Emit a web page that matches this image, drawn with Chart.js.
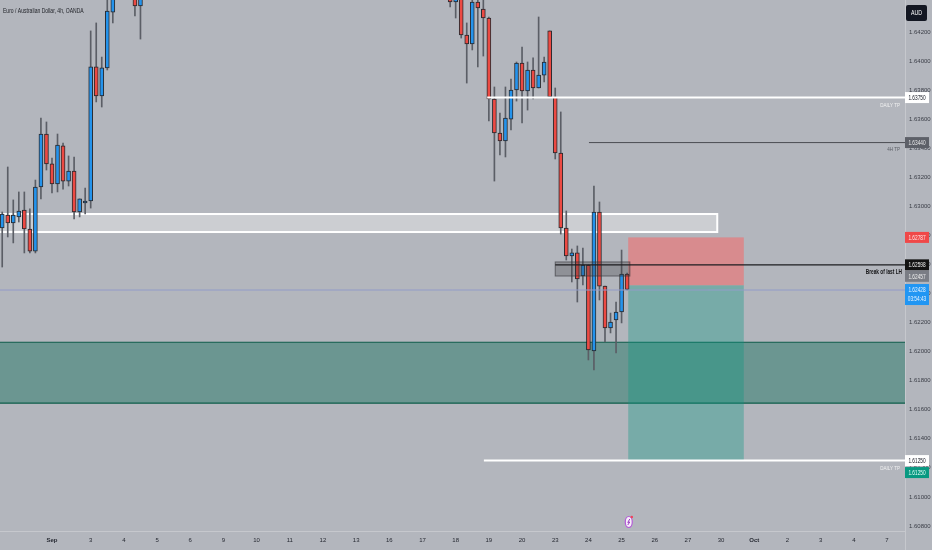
<!DOCTYPE html>
<html>
<head>
<meta charset="utf-8">
<script src="https://cdn.jsdelivr.net/npm/chart.js@4.4.0/dist/chart.umd.min.js"></script>
<style>
html, body { margin: 0; padding: 0; background: #b3b6bd; }
#wrap { position: relative; width: 932px; height: 550px; }
</style>
</head>
<body>
<div id="wrap"><canvas id="eurAudCanvas" width="932" height="550"></canvas></div>
<script>
// 4h bars, index 0 = first bar of September (Sunday session bar)
var barIdx = [-9,-8,-7,-6,-5,-4,-3,-2,-1,0,1,2,3,4,5,6,7,8,9,10,11,15,16,
  72,73,74,75,76,77,78,79,80,81,82,83,84,85,86,87,88,89,90,91,92,93,94,95,96,97,98,99,100,101,102,103,104];
var opens = [1.62852,1.62941,1.62886,1.62928,1.62976,1.62845,1.62693,1.63134,1.63499,1.63293,1.63155,1.63417,1.63175,1.63244,1.62962,1.63024,1.63038,1.63961,1.63761,1.63954,1.64339,1.64500,1.64381,
  1.64440,1.64408,1.64460,1.64181,1.64119,1.64408,1.64360,1.64298,1.63740,1.63506,1.63451,1.63602,1.63802,1.63988,1.63795,1.63940,1.63816,1.63905,1.64209,1.63754,1.63368,1.62852,1.62659,1.62680,1.62521,1.62597,1.62005,1.62962,1.62452,1.62163,1.62218,1.62273,1.62535];
var highs = [1.62962,1.63272,1.63045,1.63100,1.63100,1.62983,1.63182,1.63609,1.63582,1.63334,1.63499,1.63437,1.63348,1.63341,1.63052,1.63127,1.64209,1.64264,1.64029,1.64420,1.64580,1.64560,1.64580,
  1.64500,1.64550,1.64500,1.64264,1.64440,1.64440,1.64430,1.64305,1.63823,1.63644,1.63823,1.63878,1.63995,1.64098,1.63995,1.64023,1.64305,1.64029,1.64209,1.63816,1.63651,1.62969,1.62707,1.62728,1.62714,1.62597,1.63141,1.63031,1.62452,1.62266,1.62342,1.62700,1.62542];
var lows = [1.62583,1.62790,1.62749,1.62893,1.62680,1.62680,1.62680,1.63052,1.63251,1.63093,1.63100,1.63120,1.63141,1.62914,1.62928,1.62948,1.62989,1.63720,1.63685,1.63940,1.64264,1.64312,1.64153,
  1.64374,1.64298,1.64160,1.63850,1.64078,1.63961,1.64036,1.63589,1.63175,1.63355,1.63341,1.63527,1.63726,1.63575,1.63664,1.63740,1.63816,1.63857,1.63754,1.63327,1.62810,1.62631,1.62480,1.62342,1.62459,1.61943,1.61874,1.62356,1.62067,1.62129,1.61991,1.62198,1.62425];
var closes = [1.62948,1.62886,1.62941,1.62969,1.62845,1.62693,1.63134,1.63499,1.63293,1.63155,1.63423,1.63175,1.63244,1.62962,1.63052,1.63038,1.63961,1.63761,1.63954,1.64346,1.64520,1.64381,1.64520,
  1.64408,1.64500,1.64181,1.64119,1.64408,1.64367,1.64298,1.63740,1.63506,1.63451,1.63609,1.63802,1.63988,1.63795,1.63940,1.63816,1.63905,1.63995,1.63754,1.63368,1.62852,1.62659,1.62680,1.62501,1.62597,1.62012,1.62962,1.62452,1.62163,1.62204,1.62273,1.62535,1.62428];

// time axis labels (bar index where each day starts)
var dayBars = [0,7,13,19,25,31,37,43,49,55,61,67,73,79,85,91,97,103,109,115,121,127,133,139,145,151];
var dayLabels = ['Sep','3','4','5','6','9','10','11','12','13','16','17','18','19','20','23','24','25','26','27','30','Oct','2','3','4','7'];
var priceTicks = [1.608,1.610,1.612,1.614,1.616,1.618,1.620,1.622,1.624,1.626,1.628,1.630,1.632,1.634,1.636,1.638,1.640,1.642];

// drawn levels
var demandZone = [1.62065, 1.61645];
var flipZone = [1.62948, 1.62824];
var flipZoneEnd = 120.3;
var breakLevel = 1.62598;
var breakBox = [1.62618, 1.62521];
var breakFrom = 91;
var breakBoxTo = 104.5;
var stopLevel = 1.62787;
var entryLevel = 1.62457;
var targetLevel = 1.61250;
var tradeFrom = 104.2;
var tradeTo = 125.1;
var dailyTpHigh = 1.63750;
var dailyTpHighFrom = 78.7;
var h4Tp = 1.63440;
var h4TpFrom = 97.1;
var dailyTpLow = 1.61250;
var dailyTpLowFrom = 78.1;
var lastPrice = 1.62428;
var countdown = '03:54:43';
var eventBar = 104.3;

var FAMILY = "'Liberation Sans', Arial, sans-serif";
Chart.defaults.font.family = FAMILY;

// narrow text: the screenshot's lettering is squeezed sideways
function label(ctx, str, x, y, px, bold, align, sx, color) {
  ctx.save();
  ctx.translate(x, y);
  ctx.scale(sx, 1);
  ctx.font = (bold ? 'bold ' : '') + px + 'px ' + FAMILY;
  ctx.textAlign = align;
  ctx.textBaseline = 'middle';
  ctx.fillStyle = color;
  ctx.fillText(str, 0, 0);
  ctx.restore();
}

var wickData = [], bodyData = [], bodyColors = [];
for (var i = 0; i < barIdx.length; i++) {
  wickData.push({ x: barIdx[i], y: [lows[i], highs[i]] });
  bodyData.push({ x: barIdx[i], y: [opens[i], closes[i]] });
  bodyColors.push(closes[i] >= opens[i] ? '#2493ec' : '#ec4a43');
}

function priceLabel(ctx, y, text, bg, fg, text2) {
  var h = text2 ? 21 : 11;
  ctx.fillStyle = bg;
  ctx.fillRect(905, y - 5.5, 24, h);
  label(ctx, text, 917, y + 0.5, 7, false, 'center', 0.68, fg);
  if (text2) label(ctx, text2, 917, y + 10, 7, false, 'center', 0.68, fg);
}

var drawings = {
  id: 'drawings',
  beforeDatasetsDraw: function (chart) {
    var ctx = chart.ctx, a = chart.chartArea;
    var X = function (v) { return chart.scales.x.getPixelForValue(v); };
    var Y = function (v) { return chart.scales.y.getPixelForValue(v); };
    ctx.save();
    ctx.beginPath(); ctx.rect(a.left, a.top, a.right - a.left, a.bottom - a.top); ctx.clip();

    // demand zone
    ctx.fillStyle = 'rgba(20,110,90,0.45)';
    ctx.fillRect(a.left, Y(demandZone[0]), a.right - a.left, Y(demandZone[1]) - Y(demandZone[0]));
    ctx.strokeStyle = '#0f5e4b'; ctx.lineWidth = 1.2;
    ctx.beginPath();
    ctx.moveTo(a.left, Y(demandZone[0])); ctx.lineTo(a.right, Y(demandZone[0]));
    ctx.moveTo(a.left, Y(demandZone[1])); ctx.lineTo(a.right, Y(demandZone[1]));
    ctx.stroke();

    // flip zone
    ctx.fillStyle = 'rgba(255,255,255,0.33)';
    ctx.fillRect(a.left, Y(flipZone[0]), X(flipZoneEnd) - a.left, Y(flipZone[1]) - Y(flipZone[0]));
    ctx.strokeStyle = '#ffffff'; ctx.lineWidth = 2;
    ctx.strokeRect(a.left - 2, Y(flipZone[0]), X(flipZoneEnd) - a.left + 2, Y(flipZone[1]) - Y(flipZone[0]));

    // short position
    ctx.fillStyle = 'rgba(240,110,110,0.6)';
    ctx.fillRect(X(tradeFrom), Y(stopLevel), X(tradeTo) - X(tradeFrom), Y(entryLevel) - Y(stopLevel));
    ctx.fillStyle = 'rgba(8,153,129,0.35)';
    ctx.fillRect(X(tradeFrom), Y(entryLevel), X(tradeTo) - X(tradeFrom), Y(targetLevel) - Y(entryLevel));
    ctx.restore();
  },
  afterDatasetsDraw: function (chart) {
    var ctx = chart.ctx, a = chart.chartArea;
    var X = function (v) { return chart.scales.x.getPixelForValue(v); };
    var Y = function (v) { return chart.scales.y.getPixelForValue(v); };
    ctx.save();

    // break of structure box + line
    ctx.fillStyle = 'rgba(60,60,64,0.3)';
    ctx.fillRect(X(breakFrom), Y(breakBox[0]), X(breakBoxTo) - X(breakFrom), Y(breakBox[1]) - Y(breakBox[0]));
    ctx.strokeStyle = 'rgba(50,50,55,0.6)'; ctx.lineWidth = 1;
    ctx.strokeRect(X(breakFrom), Y(breakBox[0]), X(breakBoxTo) - X(breakFrom), Y(breakBox[1]) - Y(breakBox[0]));
    ctx.strokeStyle = '#1c1c20'; ctx.lineWidth = 1.2;
    ctx.beginPath(); ctx.moveTo(X(breakFrom), Y(breakLevel)); ctx.lineTo(a.right, Y(breakLevel)); ctx.stroke();

    // last price line
    ctx.strokeStyle = '#929bc8'; ctx.lineWidth = 1;
    ctx.beginPath(); ctx.moveTo(a.left, Y(lastPrice) + 0.5); ctx.lineTo(a.right, Y(lastPrice) + 0.5); ctx.stroke();

    // take profit lines
    ctx.strokeStyle = '#ffffff'; ctx.lineWidth = 2;
    ctx.beginPath();
    ctx.moveTo(X(dailyTpHighFrom), Y(dailyTpHigh)); ctx.lineTo(a.right, Y(dailyTpHigh));
    ctx.moveTo(X(dailyTpLowFrom), Y(dailyTpLow)); ctx.lineTo(a.right, Y(dailyTpLow));
    ctx.stroke();
    ctx.strokeStyle = '#4a4c52'; ctx.lineWidth = 1;
    ctx.beginPath(); ctx.moveTo(X(h4TpFrom), Y(h4Tp)); ctx.lineTo(a.right, Y(h4Tp)); ctx.stroke();

    label(ctx, 'DAILY TP', a.right - 5, Y(dailyTpHigh) + 8, 6, false, 'right', 0.75, '#f2f2f2');
    label(ctx, 'DAILY TP', a.right - 5, Y(dailyTpLow) + 8, 6, false, 'right', 0.75, '#f2f2f2');
    label(ctx, '4H TP', a.right - 5, Y(h4Tp) + 7, 6, false, 'right', 0.75, '#5a5d64');
    label(ctx, 'Break of last LH', a.right - 3, Y(breakLevel) + 7, 7, true, 'right', 0.68, '#141416');

    // title
    label(ctx, 'Euro / Australian Dollar, 4h, OANDA', 3, 11, 7, false, 'left', 0.72, '#1e2026');

    // event marker
    var ex = X(eventBar), ey = a.bottom - 9;
    ctx.fillStyle = '#f6eef8'; ctx.strokeStyle = '#b45ad8'; ctx.lineWidth = 1.2;
    ctx.beginPath(); ctx.ellipse(ex, ey, 3.5, 5.5, 0, 0, Math.PI * 2); ctx.fill(); ctx.stroke();
    ctx.strokeStyle = '#9c3fc4'; ctx.lineWidth = 1;
    ctx.beginPath(); ctx.moveTo(ex + 1, ey - 3); ctx.lineTo(ex - 1, ey + 0.5); ctx.lineTo(ex + 1, ey); ctx.lineTo(ex - 1, ey + 3); ctx.stroke();
    ctx.fillStyle = '#f0445a';
    ctx.beginPath(); ctx.arc(ex + 3, ey - 5, 1.3, 0, Math.PI * 2); ctx.fill();

    // axis separators
    ctx.strokeStyle = 'rgba(255,255,255,0.25)'; ctx.lineWidth = 1;
    ctx.beginPath();
    ctx.moveTo(0, a.bottom + 0.5); ctx.lineTo(a.right, a.bottom + 0.5);
    ctx.moveTo(a.right + 0.5, 0); ctx.lineTo(a.right + 0.5, 550);
    ctx.stroke();
    ctx.restore();
  },
  afterDraw: function (chart) {
    var ctx = chart.ctx;
    var Y = function (v) { return chart.scales.y.getPixelForValue(v); };
    ctx.save();
    // currency box
    ctx.fillStyle = '#131722';
    ctx.beginPath(); ctx.roundRect(906, 5, 21, 16, 2); ctx.fill();
    label(ctx, 'AUD', 916.5, 13, 7, false, 'center', 0.75, '#ffffff');

    priceLabel(ctx, Y(dailyTpHigh), dailyTpHigh.toFixed(5), '#ffffff', '#131722');
    priceLabel(ctx, Y(h4Tp), h4Tp.toFixed(5), '#5d6068', '#e8e8ea');
    priceLabel(ctx, Y(stopLevel), stopLevel.toFixed(5), '#f04848', '#ffe8e8');
    priceLabel(ctx, Y(breakLevel), breakLevel.toFixed(5), '#131313', '#f2f2f2');
    priceLabel(ctx, Y(entryLevel) - 9, entryLevel.toFixed(5), '#7a7d85', '#eeeeee');
    priceLabel(ctx, Y(lastPrice), lastPrice.toFixed(5), '#2196f3', '#e8f3ff', countdown);
    priceLabel(ctx, Y(dailyTpLow), dailyTpLow.toFixed(5), '#ffffff', '#131722');
    priceLabel(ctx, Y(targetLevel) + 12, targetLevel.toFixed(5), '#089981', '#e6fff8');
    ctx.restore();
  }
};

var context = document.getElementById('eurAudCanvas');
var eurAudChart = new Chart(context, {
  type: 'bar',
  data: {
    datasets: [
      {
        label: 'wicks',
        data: wickData,
        backgroundColor: '#5b5e66',
        barThickness: 1,
        grouped: false,
        order: 2
      },
      {
        label: 'bodies',
        data: bodyData,
        backgroundColor: bodyColors,
        borderColor: 'rgba(28,28,32,0.9)',
        borderWidth: 1,
        borderSkipped: false,
        barThickness: 4,
        minBarLength: 1,
        grouped: false,
        order: 1
      }
    ]
  },
  options: {
    responsive: false,
    animation: false,
    layout: { padding: 0 },
    plugins: { legend: { display: false }, tooltip: { enabled: false } },
    scales: {
      x: {
        type: 'linear',
        min: -9.4,
        max: 154.25,
        offset: false,
        grid: { display: false, drawTicks: false, tickLength: 0 },
        border: { display: false },
        afterBuildTicks: function (s) { s.ticks = dayBars.map(function (v) { return { value: v }; }); },
        afterFit: function (s) { s.height = 19; s.paddingLeft = 0; s.paddingRight = 0; },
        ticks: {
          autoSkip: false,
          maxRotation: 0,
          padding: 6,
          color: '#262932',
          callback: function (v) { return dayLabels[dayBars.indexOf(v)]; },
          font: function (c) {
            var lab = dayLabels[c.index] || '';
            return { size: 6, weight: isNaN(+lab) ? 'bold' : 'normal' };
          }
        }
      },
      y: {
        position: 'right',
        min: 1.60765,
        max: 1.64422,
        grid: { display: false, drawTicks: false, tickLength: 0 },
        border: { display: false },
        afterBuildTicks: function (s) { s.ticks = priceTicks.map(function (v) { return { value: v }; }); },
        afterFit: function (s) { s.width = 27; s.paddingTop = 0; s.paddingBottom = 0; },
        ticks: {
          padding: 4,
          crossAlign: 'near',
          color: '#3a3d46',
          font: { size: 6 },
          callback: function (v) { return v.toFixed(5); }
        }
      }
    }
  },
  plugins: [drawings]
});
</script>
</body>
</html>
